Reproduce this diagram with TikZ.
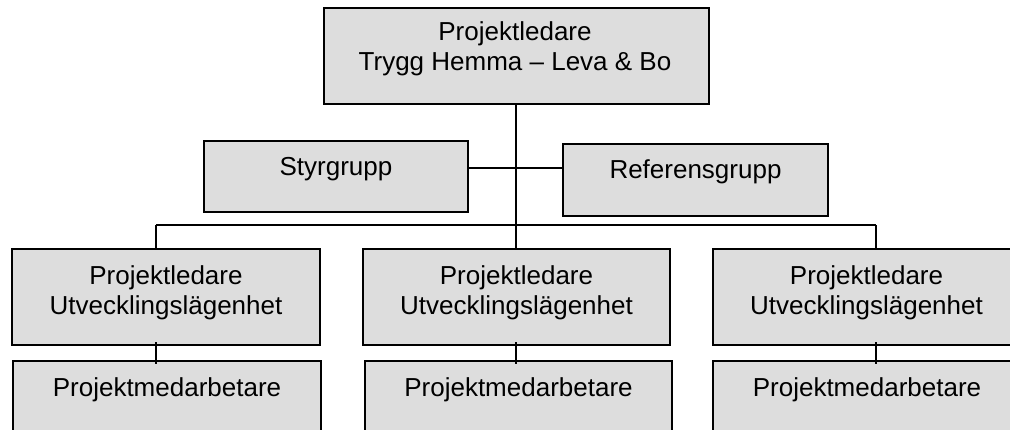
\documentclass[tikz,border=0pt]{standalone}
\usepackage{fontspec}
\setmainfont{Liberation Sans}
\definecolor{boxgray}{RGB}{221,221,221}
\begin{document}
\begin{tikzpicture}[x=1pt,y=-1pt,
  rect/.style={draw=black, fill=boxgray, line width=2pt, inner sep=0pt},
  lbl/.style={font=\fontsize{26}{30}\selectfont, align=center, inner sep=0pt},
  conn/.style={draw=black, line width=2pt}]
\useasboundingbox (0,0) rectangle (1010,429);
\clip (0,0) rectangle (1010,429);
% top
\node[rect, minimum width=385pt, minimum height=96pt] (top) at (516.5,56) {};
\node[lbl] (toptxt) at (515,49) {Projektledare\\Trygg Hemma – Leva \& Bo};
% middle groups
\node[rect, minimum width=264pt, minimum height=71pt] (sty) at (336,176.5) {};
\node[lbl] (stytxt) at (336,169) {Styrgrupp};
\node[rect, minimum width=265pt, minimum height=72pt] (ref) at (695.5,180) {};
\node[lbl] (reftxt) at (695.5,172) {Referensgrupp};
% upper row
\node[rect, minimum width=308pt, minimum height=96pt] (pl1) at (166,297) {};
\node[rect, minimum width=307pt, minimum height=96pt] (pl2) at (516.5,297) {};
\node[rect, minimum width=307pt, minimum height=96pt] (pl3) at (866.5,297) {};
\node[lbl] (pl1txt) at (166,293) {Projektledare\\Utvecklingslägenhet};
\node[lbl] (pl2txt) at (516.5,293) {Projektledare\\Utvecklingslägenhet};
\node[lbl] (pl3txt) at (866.5,293) {Projektledare\\Utvecklingslägenhet};
% lower row
\node[rect, minimum width=308pt, minimum height=84pt] (pm1) at (167,403) {};
\node[rect, minimum width=307pt, minimum height=84pt] (pm2) at (518.5,403) {};
\node[rect, minimum width=308pt, minimum height=84pt] (pm3) at (867,403) {};
\node[lbl] (pm1txt) at (167,390) {Projektmedarbetare};
\node[lbl] (pm2txt) at (518.5,390) {Projektmedarbetare};
\node[lbl] (pm3txt) at (867,390) {Projektmedarbetare};
% connectors
\coordinate (busL) at (156,225);
\coordinate (busM) at (516,225);
\coordinate (busR) at (876,225);
\draw[conn] (top.south -| busM) -- (pl2.north -| busM);
\draw[conn] ([yshift=8.5pt]sty.east) -- ([yshift=8.5pt]sty.east -| ref.west);
\draw[conn] (busL) -- (busR);
\draw[conn] (busL) -- (busL |- pl1.north);
\draw[conn] (busR) -- (busR |- pl3.north);
\draw[conn] ([yshift=4pt]pl1.south -| busL) -- ([yshift=-4pt]pm1.north -| busL);
\draw[conn] ([yshift=4pt]pl2.south -| busM) -- ([yshift=-4pt]pm2.north -| busM);
\draw[conn] ([yshift=4pt]pl3.south -| busR) -- ([yshift=-4pt]pm3.north -| busR);
\end{tikzpicture}
\end{document}
